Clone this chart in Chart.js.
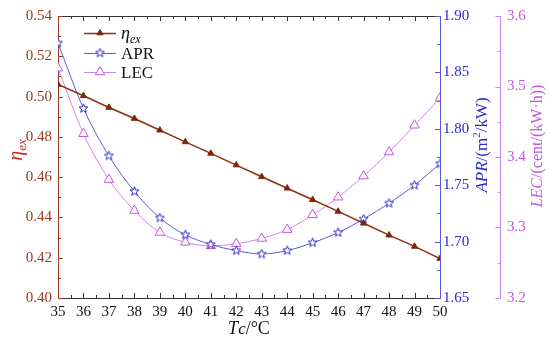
<!DOCTYPE html>
<html><head><meta charset="utf-8">
<script src="https://cdn.jsdelivr.net/npm/chart.js@4"></script>
<style>html,body{margin:0;padding:0;background:#fff}#wrap{width:550px;height:341px}</style>
</head><body><div id="wrap"><canvas id="c" width="550" height="341"></canvas></div>
<script>
const tc = [35,36,37,38,39,40,41,42,43,44,45,46,47,48,49,50];
const etaEx = [0.506,0.5004,0.4946,0.4891,0.4833,0.4775,0.4718,0.466,0.4602,0.4545,0.4488,0.443,0.4371,0.4312,0.4256,0.4196];
const apr = [1.876,1.818,1.776,1.7445,1.721,1.706,1.6975,1.692,1.689,1.692,1.699,1.708,1.720,1.734,1.750,1.769];
const lec = [3.526,3.433,3.368,3.324,3.293,3.279,3.274,3.277,3.2845,3.297,3.318,3.343,3.373,3.407,3.445,3.4835];
const etaTicks = [0.40,0.42,0.44,0.46,0.48,0.50,0.52,0.54];
const aprTicks = [1.65,1.70,1.75,1.80,1.85,1.90];
const lecTicks = [3.2,3.3,3.4,3.5,3.6];

const SERIF = '"Liberation Serif","DejaVu Serif",serif';
const C_ETA = '#8e2f12', C_ETA_AX = '#9a3a1e', C_ETA_T = '#c8281e';
const C_APR = '#5a5ad8', C_APR_AX = '#2b2bc8';
const C_LEC = '#cc88ee', C_LEC_AX = '#c455e6';

function starCanvas(size, color){
  const cv = document.createElement('canvas'); cv.width = size; cv.height = size;
  const g = cv.getContext('2d'); const cx=size/2, cy=size/2, R=size/2-0.8, r=R*0.42;
  g.beginPath();
  for(let i=0;i<10;i++){const rad=(i%2?r:R); const a=-Math.PI/2+i*Math.PI/5; const px=cx+rad*Math.cos(a), py=cy+rad*Math.sin(a); i?g.lineTo(px,py):g.moveTo(px,py);}
  g.closePath(); g.fillStyle='#fff'; g.fill(); g.strokeStyle=color; g.lineWidth=1; g.stroke();
  return cv;
}
const star = starCanvas(11, C_APR_AX);

const pts = arr => tc.map((t,i)=>({x:t,y:arr[i]}));

function drawRich(ctx, parts, x, y, align){
  let w=0; parts.forEach(p=>{ctx.font=(p[2]?'italic ':'')+p[1]+'px '+SERIF; w+=ctx.measureText(p[0]).width;});
  let sx = align==='center'? x-w/2 : x;
  ctx.textAlign='left'; ctx.textBaseline='alphabetic';
  parts.forEach(p=>{ctx.font=(p[2]?'italic ':'')+p[1]+'px '+SERIF; ctx.fillText(p[0], sx, y+(p[3]||0)); sx+=ctx.measureText(p[0]).width;});
}

const axesPlugin = {
  id:'axesPlugin',
  beforeDatasetsDraw(chart){
    const {ctx, chartArea:a, scales} = chart;
    const x=scales.x, y=scales.y, y1=scales.y1, y2=scales.y2;
    ctx.save(); ctx.lineWidth=1;
    ctx.strokeStyle='#333';
    ctx.beginPath(); ctx.moveTo(a.left,a.top+0.5); ctx.lineTo(a.right,a.top+0.5); ctx.moveTo(a.left,a.bottom+0.5); ctx.lineTo(a.right,a.bottom+0.5); ctx.stroke();
    ctx.beginPath();
    for(let v=35; v<=50.001; v+=0.5){
      const px=Math.round(x.getPixelForValue(v))+0.5; const L=(Math.abs(v-Math.round(v))<1e-6)?5:3;
      ctx.moveTo(px,a.bottom); ctx.lineTo(px,a.bottom-L);
      ctx.moveTo(px,a.top); ctx.lineTo(px,a.top+L);
    }
    ctx.stroke();
    ctx.strokeStyle=C_ETA_AX; ctx.beginPath(); ctx.moveTo(a.left+0.5,a.top); ctx.lineTo(a.left+0.5,a.bottom);
    for(let i=0;i<=14;i++){const v=0.40+i*0.01; const py=Math.round(y.getPixelForValue(v))+0.5; const L=i%2?3:5; ctx.moveTo(a.left,py); ctx.lineTo(a.left+L,py);}
    ctx.stroke();
    ctx.strokeStyle=C_APR; ctx.beginPath(); ctx.moveTo(a.right+0.5,a.top); ctx.lineTo(a.right+0.5,a.bottom+1);
    for(let i=0;i<=10;i++){const v=1.65+i*0.025; const py=Math.round(y1.getPixelForValue(v))+0.5; const L=i%2?3:5; ctx.moveTo(a.right,py); ctx.lineTo(a.right-L,py);}
    ctx.stroke();
    const lx = Math.round(y2.left)+0.5;
    ctx.strokeStyle=C_LEC; ctx.beginPath(); ctx.moveTo(lx,a.top); ctx.lineTo(lx,a.bottom);
    for(let i=0;i<=8;i++){const v=3.2+i*0.05; const py=Math.round(y2.getPixelForValue(v))+0.5; const L=i%2?3:5; ctx.moveTo(lx,py); ctx.lineTo(lx-L,py);}
    ctx.stroke();
    ctx.restore();
  },
  afterDraw(chart){
    const {ctx, chartArea:a} = chart;
    ctx.save();
    ctx.fillStyle='#111';
    drawRich(ctx, [['T',18,true],['c',17,true,0],['/°C',18,false]], (a.left+a.right)/2, 334, 'center');
    ctx.save(); ctx.translate(17,150); ctx.rotate(-Math.PI/2); ctx.fillStyle=C_ETA_T;
    drawRich(ctx, [['η',20,true],['ex',13,true,4]], 0, 5, 'center'); ctx.restore();
    ctx.save(); ctx.translate(487,145); ctx.rotate(-Math.PI/2); ctx.fillStyle=C_APR_AX;
    drawRich(ctx, [['APR',17,true],['/(m',17,false],['2',11,false,-7],['/kW)',17,false]], 0, 0, 'center'); ctx.restore();
    ctx.save(); ctx.translate(542,146); ctx.rotate(-Math.PI/2); ctx.fillStyle=C_LEC_AX;
    drawRich(ctx, [['LEC',16,true],['/(cent/(kW·h))',16,false]], 0, 0, 'center'); ctx.restore();
    const ds = chart.data.datasets;
    const items = [
      {d:ds[0], y:33, label:[['η',18,true],['ex',12,true,4]]},
      {d:ds[1], y:53, label:[['APR',17,false]]},
      {d:ds[2], y:72, label:[['LEC',17,false]]}
    ];
    items.forEach(it=>{
      const d=it.d;
      ctx.strokeStyle=d.borderColor; ctx.lineWidth=d.borderWidth;
      ctx.beginPath(); ctx.moveTo(84,it.y+0.5); ctx.lineTo(116,it.y+0.5); ctx.stroke();
      ctx.fillStyle=d.pointBackgroundColor; ctx.strokeStyle=d.pointBorderColor; ctx.lineWidth=1;
      Chart.helpers.drawPoint(ctx,{pointStyle:d.pointStyle,rotation:0,borderWidth:1,radius:d.pointRadius},100,it.y);
      ctx.fillStyle='#111';
      drawRich(ctx, it.label, 121, it.y+6, 'left');
    });
    ctx.restore();
  }
};

new Chart(document.getElementById('c'), {
  type:'line',
  data:{datasets:[
    {label:'ηex', data:pts(etaEx), yAxisID:'y', borderColor:C_ETA, borderWidth:1.5, pointStyle:'triangle', pointRadius:3.6, pointBackgroundColor:'#7a2808', pointBorderColor:'#7a2808', pointBorderWidth:1, tension:0},
    {label:'APR', data:pts(apr), yAxisID:'y1', borderColor:C_APR, borderWidth:1, pointStyle:star, pointRadius:5, pointBackgroundColor:'#fff', pointBorderColor:C_APR_AX, tension:0.3, cubicInterpolationMode:'monotone'},
    {label:'LEC', data:pts(lec), yAxisID:'y2', borderColor:C_LEC, borderWidth:1, pointStyle:'triangle', pointRadius:5.5, pointBackgroundColor:'#fff', pointBorderColor:C_LEC_AX, pointBorderWidth:1, tension:0.3, cubicInterpolationMode:'monotone'}
  ]},
  options:{
    responsive:false, animation:false, devicePixelRatio:1,
    layout:{padding:{top:14,left:0,right:0,bottom:0}},
    plugins:{legend:{display:false}, tooltip:{enabled:false}},
    scales:{
      x:{type:'linear', min:35, max:50, grid:{display:false, drawTicks:false}, border:{display:false},
         ticks:{stepSize:1, color:'#111', font:{family:SERIF,size:15}, padding:5, maxRotation:0},
         afterFit(s){s.height=43;}},
      y:{position:'left', min:0.40, max:0.54, grid:{display:false, drawTicks:false}, border:{display:false},
         afterBuildTicks(s){s.ticks=etaTicks.map(v=>({value:v}));},
         ticks:{color:C_ETA_AX, font:{family:SERIF,size:15}, padding:6, callback:v=>v.toFixed(2)},
         afterFit(s){s.width=58;}},
      y1:{position:'right', weight:0, min:1.65, max:1.90, grid:{display:false, drawTicks:false}, border:{display:false},
         afterBuildTicks(s){s.ticks=aprTicks.map(v=>({value:v}));},
         ticks:{color:C_APR_AX, font:{family:SERIF,size:15}, padding:3, callback:v=>v.toFixed(2)},
         afterFit(s){s.width=60;}},
      y2:{position:'right', weight:1, min:3.2, max:3.6, grid:{display:false, drawTicks:false}, border:{display:false},
         afterBuildTicks(s){s.ticks=lecTicks.map(v=>({value:v}));},
         ticks:{color:C_LEC_AX, font:{family:SERIF,size:15}, padding:7, callback:v=>v.toFixed(1)},
         afterFit(s){s.width=50;}}
    }
  },
  plugins:[axesPlugin]
});
</script></body></html>
